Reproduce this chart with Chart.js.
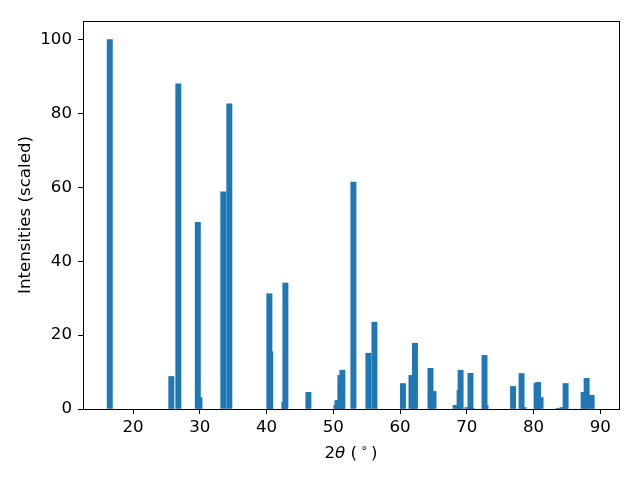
<!DOCTYPE html>
<html>
<head>
<meta charset="utf-8">
<script src="https://cdn.jsdelivr.net/npm/chart.js@4/dist/chart.umd.min.js"></script>
<style>
  html, body { margin: 0; padding: 0; background: #ffffff; }
  canvas { display: block; }
</style>
</head>
<body>
<canvas id="xrdChart" width="640" height="480"></canvas>
<script>
// peak positions (2 theta, degrees) and scaled intensities
const positions = [
    16.51, 25.73, 26.78, 29.70, 29.95, 33.52, 34.42, 40.42, 40.55, 42.67,
    42.82, 46.27, 50.47, 50.62, 51.06, 51.36, 53.01, 55.26, 56.16, 60.43,
    61.71, 62.23, 64.56, 65.01, 68.32, 68.92, 69.07, 70.10, 70.55, 70.70,
    72.65, 72.80, 76.93, 78.20, 78.50, 80.45, 80.68, 81.05, 83.75, 84.35,
    84.80, 87.50, 87.95, 88.70
];
const intensities = [
    100, 8.8, 88.0, 50.5, 3.1, 58.8, 82.6, 31.2, 15.5, 1.8,
    34.1, 4.5, 1.0, 2.3, 9.1, 10.5, 61.4, 15.1, 23.5, 6.9,
    9.1, 17.8, 11.0, 4.75, 1.0, 5.0, 10.5, 0.4, 9.65, 0.2,
    14.5, 1.0, 6.1, 9.6, 0.4, 6.9, 7.2, 3.1, 0.2, 0.4,
    6.9, 4.5, 8.3, 3.7
];
const xTicks = [20, 30, 40, 50, 60, 70, 80, 90];
const yTicks = [0, 20, 40, 60, 80, 100];

const font = { family: 'DejaVu Sans', size: 16.67 };

// draws the box round the plot area, like matplotlib spines
const frame = {
    id: 'frame',
    afterDraw(chart) {
        const a = chart.chartArea;
        const ctx = chart.ctx;
        ctx.save();
        ctx.strokeStyle = '#000000';
        ctx.lineWidth = 1;
        ctx.strokeRect(a.left + 0.5, a.top + 0.5, a.right - a.left, a.bottom - a.top);
        ctx.restore();
    }
};

// x axis label with italic theta and a raised degree ring
const xLabel = {
    id: 'xLabel',
    afterDraw(chart) {
        const a = chart.chartArea;
        const ctx = chart.ctx;
        const normal = '16.67px "DejaVu Sans"';
        const parts = [
            { t: '2', f: normal, dy: 0 },
            { t: 'θ', f: 'italic 16.67px "DejaVu Sans"', dy: 0 },
            { t: ' (\u2009', f: normal, dy: 0 },
            { t: '∘', f: '11.7px "DejaVu Sans"', dy: -6 },
            { t: '\u2009)', f: normal, dy: 0 }
        ];
        ctx.save();
        ctx.fillStyle = '#000000';
        ctx.textBaseline = 'alphabetic';
        ctx.textAlign = 'left';
        let total = 0;
        parts.forEach(p => { ctx.font = p.f; p.w = ctx.measureText(p.t).width; total += p.w; });
        let x = (a.left + a.right) / 2 - total / 2;
        const y = a.bottom + 49;
        parts.forEach(p => {
            ctx.font = p.f;
            ctx.fillText(p.t, x, y + p.dy);
            x += p.w;
        });
        ctx.restore();
    }
};

const ctx = document.getElementById('xrdChart').getContext('2d');
new Chart(ctx, {
    type: 'bar',
    data: {
        datasets: [{
            data: positions.map((p, i) => ({ x: p, y: intensities[i] })),
            backgroundColor: '#1f77b4',
            borderWidth: 0,
            barThickness: 5.3
        }]
    },
    options: {
        responsive: false,
        animation: false,
        devicePixelRatio: 1,
        layout: { padding: { top: 21, right: 21, left: 0, bottom: 0 } },
        plugins: {
            legend: { display: false },
            tooltip: { enabled: false }
        },
        scales: {
            x: {
                type: 'linear',
                min: 12.5,
                max: 92.8,
                offset: false,
                afterFit: (scale) => { scale.height = 71; },
                afterBuildTicks: (scale) => { scale.ticks = xTicks.map(v => ({ value: v })); },
                ticks: { color: '#000000', font: font, padding: 4, maxRotation: 0 },
                grid: { offset: false, drawOnChartArea: false, drawTicks: true, tickLength: 5, color: '#000000' },
                border: { display: false },
                title: { display: false }
            },
            y: {
                min: 0,
                max: 105,
                afterFit: (scale) => { scale.width = 83; },
                afterBuildTicks: (scale) => { scale.ticks = yTicks.map(v => ({ value: v })); },
                ticks: { color: '#000000', font: font, padding: 6 },
                grid: { drawOnChartArea: false, drawTicks: true, tickLength: 5, color: '#000000' },
                border: { display: false },
                title: {
                    display: true,
                    text: 'Intensities (scaled)',
                    color: '#000000',
                    font: font,
                    padding: { top: 16, bottom: 0 }
                }
            }
        }
    },
    plugins: [frame, xLabel]
});
</script>
</body>
</html>
